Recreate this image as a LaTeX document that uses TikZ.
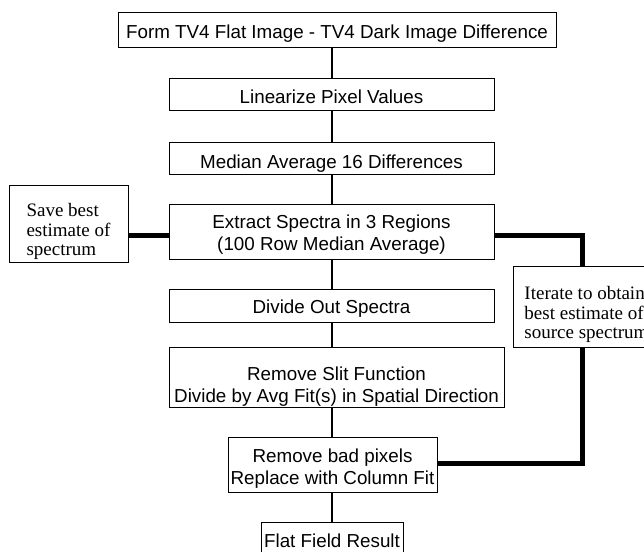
\documentclass[tikz,border=0pt]{standalone}
\usepackage{fontspec}
\setmainfont{Liberation Sans}
\newfontfamily\boxserif{Liberation Serif}
\newcommand\ctxt[2]{\raisebox{#1}[\height][\depth]{\begin{tabular}{@{}c@{}}#2\end{tabular}}}
\newcommand\ltxt[2]{\raisebox{#1}[\height][\depth]{\begin{tabular}{@{}l@{}}#2\end{tabular}}}
\begin{document}
\begin{tikzpicture}[x=1pt,y=-1pt,
  box/.style={draw, line width=0.9pt, inner sep=0pt,
    font=\fontsize{18.8}{21.5}\selectfont},
  notebox/.style={draw, line width=0.9pt, inner sep=0pt,
    font=\boxserif\fontsize{19}{19}\selectfont},
  thinlink/.style={line width=1.1pt},
  thicklink/.style={line width=5pt}]
\useasboundingbox (0,0) rectangle (644,551);
\clip (0,0) rectangle (644,551);
\fill[white] (0,0) rectangle (644,551);

\node[box, minimum width=438pt, minimum height=35pt] (b1) at (337,29.5)
  {\ctxt{-4.7pt}{Form TV4 Flat Image - TV4 Dark Image Difference}};
\node[box, minimum width=325pt, minimum height=32pt] (b2) at (331.5,94)
  {\ctxt{-5.2pt}{Linearize Pixel Values}};
\node[box, minimum width=325pt, minimum height=32pt] (b3) at (331.5,158.5)
  {\ctxt{-5.2pt}{Median Average 16 Differences}};
\node[box, minimum width=325pt, minimum height=55pt] (b4) at (331.5,231.5)
  {\ctxt{-3.6pt}{Extract Spectra in 3 Regions\\(100 Row Median Average)}};
\node[box, minimum width=325pt, minimum height=33pt] (b5) at (331.5,305.5)
  {\ctxt{-3.2pt}{Divide Out Spectra}};
\node[box, minimum width=335pt, minimum height=60pt] (b6) at (336.5,377)
  {\ctxt{-10pt}{Remove Slit Function\\Divide by Avg Fit(s) in Spatial Direction}};
\node[box, minimum width=209pt, minimum height=55pt] (b7) at (332.5,464.5)
  {\ctxt{-4.6pt}{Remove bad pixels\\Replace with Column Fit}};
\node[box, anchor=north, minimum width=142pt, text height=13pt, text depth=30pt,
  inner ysep=12pt] (b8) at (332,522) {Flat Field Result};

\node[notebox, minimum width=119pt, minimum height=77pt] (save) at (68.5,223.5)
  {\ltxt{-8.7pt}{Save best\\estimate of\\spectrum}};
\node[notebox, anchor=west, minimum height=81pt, inner xsep=11pt]
  (iter) at (513,306.5)
  {\makebox[150pt][l]{\ltxt{-8.7pt}{Iterate to obtain\\best estimate of\\source spectrum}}};

\coordinate (cx) at (332,0);
\coordinate (xr) at (582,0);
\coordinate (ly) at (0,235);
\coordinate (ry) at (0,235);
\coordinate (by) at (0,463);

\draw[thinlink] (b1.south -| cx) -- (b2.north -| cx);
\draw[thinlink] (b2.south -| cx) -- (b3.north -| cx);
\draw[thinlink] (b3.south -| cx) -- (b4.north -| cx);
\draw[thinlink] (b4.south -| cx) -- (b5.north -| cx);
\draw[thinlink] (b5.south -| cx) -- (b6.north -| cx);
\draw[thinlink] (b6.south -| cx) -- (b7.north -| cx);
\draw[thinlink] (b7.south -| cx) -- (b8.north -| cx);

\draw[thicklink] (save.east |- ly) -- (b4.west |- ly);
\draw[thicklink] (b4.east |- ry) -| (iter.north -| xr);
\draw[thicklink] (iter.south -| xr) |- (b7.east |- by);
\end{tikzpicture}
\end{document}
